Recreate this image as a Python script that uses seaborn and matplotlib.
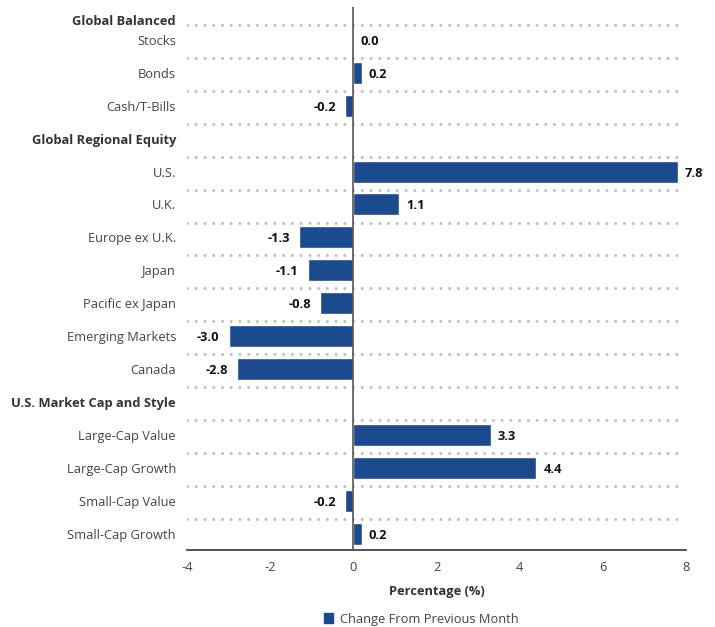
import matplotlib
matplotlib.use("Agg")
import matplotlib.pyplot as plt
import seaborn as sns
import pandas as pd
import numpy as np
from matplotlib.patches import Patch

sns.set_theme(style="white")
plt.rcParams['font.family'] = ['Open Sans', 'DejaVu Sans']

# ---- data ----
rows = ["Global Balanced", "Stocks", "Bonds", "Cash/T-Bills",
        "Global Regional Equity", "U.S.", "U.K.", "Europe ex U.K.", "Japan",
        "Pacific ex Japan", "Emerging Markets", "Canada",
        "U.S. Market Cap and Style", "Large-Cap Value", "Large-Cap Growth",
        "Small-Cap Value", "Small-Cap Growth"]
headers = ["Global Balanced", "Global Regional Equity", "U.S. Market Cap and Style"]
values = [np.nan, 0.0, 0.2, -0.2,
          np.nan, 7.8, 1.1, -1.3, -1.1, -0.8, -3.0, -2.8,
          np.nan, 3.3, 4.4, -0.2, 0.2]
series_name = "Change From Previous Month"
x_ticks = [-4, -2, 0, 2, 4, 6, 8]
x_label = "Percentage (%)"

df = pd.DataFrame({"row": rows, "value": values})

bar_color = "#1b4a8e"
fs = 9.3
fig = plt.figure(figsize=(7.15, 6.27), dpi=100)
ax = fig.add_axes([187/715, 1-550/627, (686-187)/715, (550-7)/627])

sns.barplot(data=df, x="value", y="row", order=rows, orient="h",
            color=bar_color, width=0.67, ax=ax, saturation=1, errorbar=None)

ax.set_xlim(-4, 8)
ax.set_ylim(16.5, 0.0)

# dotted separators
for k in range(16):
    ax.plot([-4, 7.92], [k + 0.55, k + 0.55], linestyle=(0, (0.01, 2.85)),
            linewidth=2.2, color="#c0c0c0", dash_capstyle="round", zorder=0)

ax.axvline(0, color="#555555", linewidth=1.2, zorder=3)

# value labels
dpi_scale = 72 / 100
for i, v in enumerate(values):
    if np.isnan(v):
        continue
    if v >= 0:
        ax.annotate(f"{v:.1f}", xy=(v, i), xytext=(7 * dpi_scale, 0),
                    textcoords="offset points", ha="left", va="center_baseline",
                    fontsize=fs, fontweight="bold", color="#111111")
    else:
        ax.annotate(f"{v:.1f}", xy=(v, i), xytext=(-9 * dpi_scale, 0),
                    textcoords="offset points", ha="right", va="center_baseline",
                    fontsize=fs, fontweight="bold", color="#111111")

# y tick labels
ypos = list(range(len(rows)))
ypos[0] = 0.39
ax.set_yticks(ypos)
ax.set_yticklabels(rows)
for lab in ax.get_yticklabels():
    if lab.get_text() in headers:
        lab.set_fontweight("bold")
        lab.set_color("#333333")
    else:
        lab.set_color("#444444")
    lab.set_fontsize(fs)
ax.tick_params(axis="y", length=0, pad=8)
ax.set_ylabel("")

ax.set_xticks(x_ticks)
ax.set_xticklabels([str(t) for t in x_ticks], fontsize=fs, color="#444444")
ax.tick_params(axis="x", length=0, pad=8)
ax.set_xlabel(x_label, fontsize=fs, fontweight="bold", color="#333333", labelpad=8)

for s in ["top", "right", "left"]:
    ax.spines[s].set_visible(False)
ax.spines["bottom"].set_color("#333333")
ax.spines["bottom"].set_linewidth(1.2)

fig.legend(handles=[Patch(facecolor=bar_color, edgecolor=bar_color, label=series_name)],
           loc="center", bbox_to_anchor=(421/715, 1-619/627), frameon=False,
           fontsize=fs, handlelength=0.75, handleheight=0.75, handletextpad=0.5,
           labelcolor="#444444")

fig.savefig("out.png", dpi=100)
